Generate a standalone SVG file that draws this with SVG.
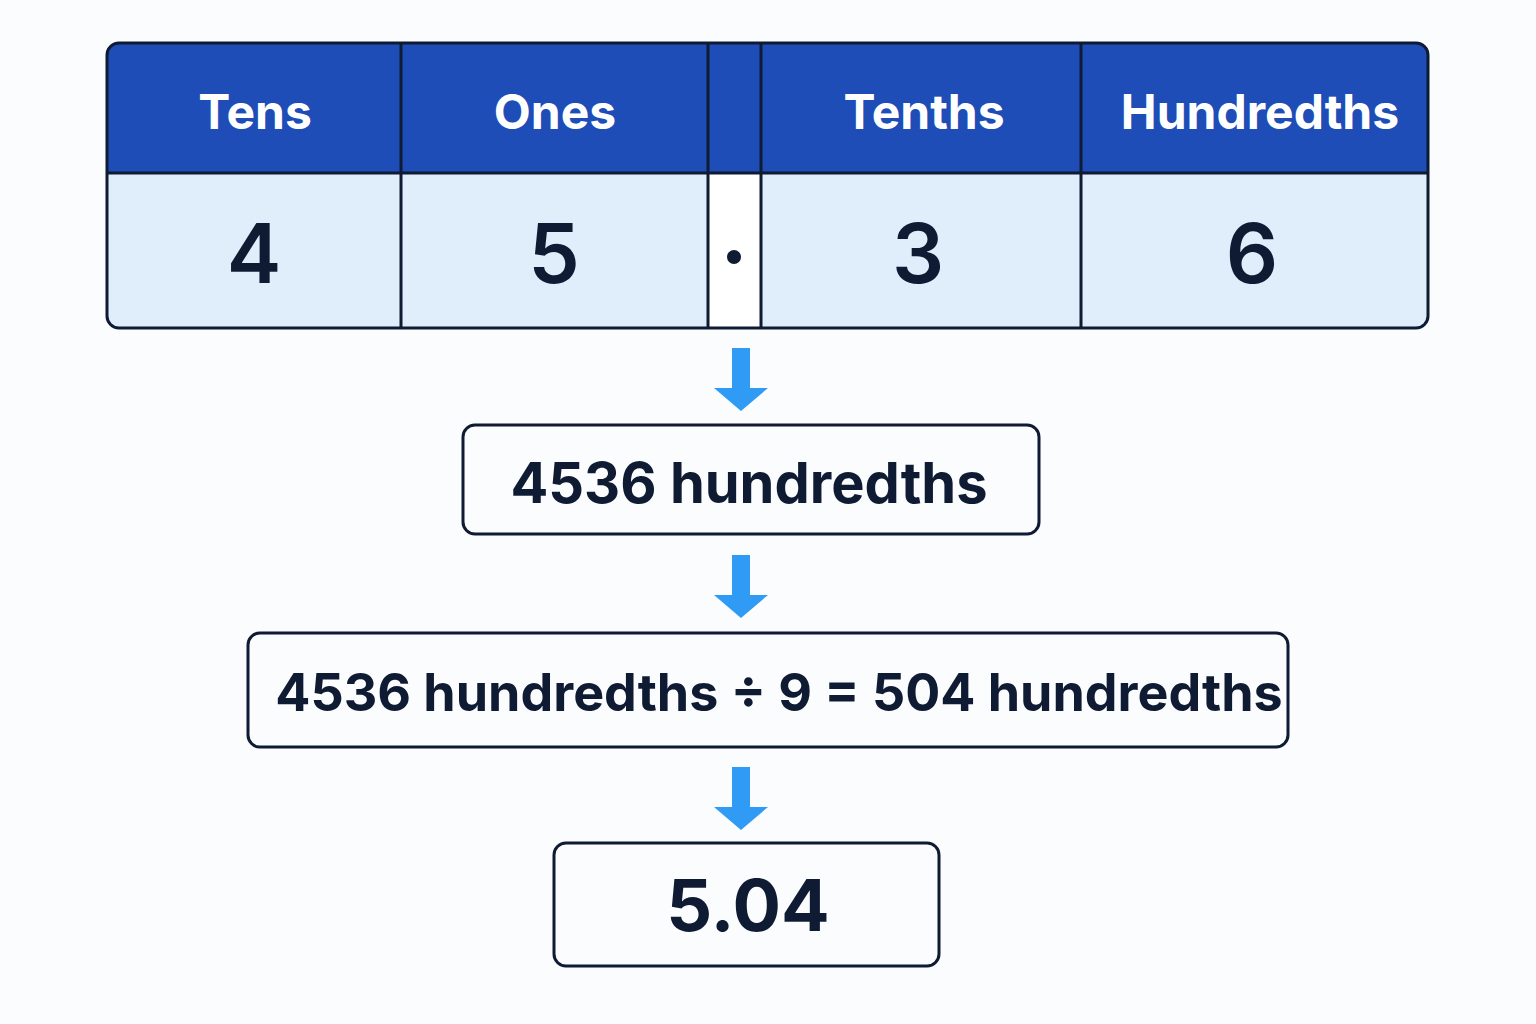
<svg xmlns="http://www.w3.org/2000/svg" width="1536" height="1024" viewBox="0 0 1536 1024">
<style>
.ln{stroke:#0F1A33;stroke-width:3;fill:none}
.hd{font-family:Inter,"Liberation Sans",sans-serif;font-weight:700;font-size:48px;fill:#fff;text-anchor:middle}
.dg{font-family:Inter,"Liberation Sans",sans-serif;font-weight:600;font-size:82px;fill:#0F1A33;text-anchor:middle}
.tx{font-family:Inter,"Liberation Sans",sans-serif;font-weight:700;fill:#0F1A33;text-anchor:middle}
.ar{fill:#2F9BF5}
</style>
<defs><clipPath id="tc"><rect x="107" y="43" width="1321" height="285" rx="12"/></clipPath></defs>
<rect width="1536" height="1024" fill="#FBFCFE"/>
<g id="table">
<g clip-path="url(#tc)">
<rect x="107" y="43" width="1321" height="130" fill="#1E4DB7"/>
<rect x="107" y="173" width="1321" height="155" fill="#E0EDFB"/>
<rect x="708" y="173" width="53" height="155" fill="#FFFFFF"/>
</g>
<rect class="ln" x="107" y="43" width="1321" height="285" rx="12"/>
<path class="ln" d="M107 173H1428M401 43V328M708 43V328M761 43V328M1081 43V328"/>
<text class="hd" x="255" y="129">Tens</text>
<text class="hd" x="555" y="129">Ones</text>
<text class="hd" x="924" y="129">Tenths</text>
<text class="hd" x="1260" y="129">Hundredths</text>
<text class="dg" x="254" y="283">4</text>
<text class="dg" x="554" y="283">5</text>
<circle cx="734" cy="257" r="7" fill="#0F1A33"/>
<text class="dg" x="918" y="283">3</text>
<text class="dg" x="1252" y="283">6</text>
</g>
<g id="connectors">
<path class="ar" d="M732 348H750V388H768L741 411L714 388H732Z"/>
<path class="ar" d="M732 555H750V595H768L741 618L714 595H732Z"/>
<path class="ar" d="M732 767H750V807H768L741 830L714 807H732Z"/>
</g>
<g id="box1">
<rect class="ln" x="463" y="425" width="576" height="109" rx="12" fill="#fff"/>
<text class="tx" x="749" y="503" font-size="56">4536 hundredths</text>
</g>
<g id="box2">
<rect class="ln" x="248" y="633" width="1040" height="114" rx="12" fill="#EFE9FB"/>
<text class="tx" x="779" y="711" font-size="52">4536 hundredths ÷ 9 = 504 hundredths</text>
</g>
<g id="box3">
<rect class="ln" x="554" y="843" width="385" height="123" rx="12" fill="#E0EDFB"/>
<text class="tx" x="748" y="931" font-size="72">5.04</text>
</g>
</svg>
